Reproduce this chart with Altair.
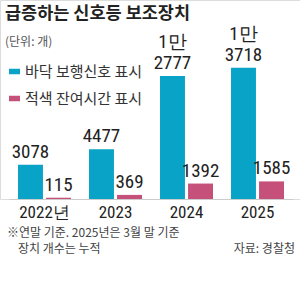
import altair as alt
import pandas as pd

years = ["2022년", "2023", "2024", "2025"]
series = ["바닥 보행신호 표시", "적색 잔여시간 표시"]
floor_signal = [3078, 4477, 12777, 13718]
red_timer = [115, 369, 1392, 1585]
colors = ["#0AA3C8", "#C5517A"]

title_text = "급증하는 신호등 보조장치"
unit_text = "(단위: 개)"
note1 = "※연말 기준. 2025년은 3월 말 기준"
note2 = "장치 개수는 누적"
source_text = "자료: 경찰청"


def low(v):
    return str(v % 10000) if v >= 10000 else str(v)


def high(v):
    return f"{v // 10000}만" if v >= 10000 else ""


rows = []
for i, y in enumerate(years):
    for s, vals in zip(series, [floor_signal, red_timer]):
        v = vals[i]
        rows.append({"year": y, "series": s, "value": v, "low": low(v), "high": high(v)})
df = pd.DataFrame(rows)

KR = "Noto Sans CJK KR"
NUM = "Liberation Sans Narrow, Roboto Condensed, Arial Narrow, sans-serif"

x_enc = alt.X("year:N", sort=years, title=None,
              scale=alt.Scale(range=[9, 293], paddingInner=0.254, paddingOuter=0.127),
              axis=alt.Axis(labelAngle=0, ticks=False, domainColor="#cccccc", domainWidth=1,
                            labelFont=NUM, labelFontSize=17, labelColor="#222222",
                            labelPadding=5))
xo_enc = alt.XOffset("series:N", sort=series,
                     scale=alt.Scale(paddingInner=0.11, paddingOuter=0))
y_enc = alt.Y("value:Q", title=None, axis=None,
              scale=alt.Scale(domain=[0, 5000, 14000], range=[199, 143.5, 65.4], nice=False))

base = alt.Chart(df)

bars = base.mark_bar().encode(
    x=x_enc, xOffset=xo_enc, y=y_enc,
    color=alt.Color("series:N", sort=series,
                    scale=alt.Scale(domain=series, range=colors),
                    legend=alt.Legend(orient="none", legendX=7, legendY=64, title=None,
                                      symbolType="M-1,-0.5H1V0.5H-1Z", symbolSize=121,
                                      symbolStrokeWidth=0, labelFont=KR, labelFontSize=15,
                                      labelColor="#333333", rowPadding=11, labelOffset=3,
                                      padding=0, labelLimit=200)),
)

labels_low = base.mark_text(baseline="bottom", dy=-3, font=NUM, fontSize=19,
                            color="#222222").encode(
    x=x_enc, xOffset=xo_enc, y=y_enc, text="low:N"
)
labels_high = base.transform_filter("datum.high != ''").mark_text(
    baseline="bottom", dy=-24, font=NUM, fontSize=19, color="#222222").encode(
    x=x_enc, xOffset=xo_enc, y=y_enc, text="high:N"
)


def txt(s, x, y, size, color, align="left", weight="normal"):
    return alt.Chart(pd.DataFrame({"t": [s]})).mark_text(
        align=align, baseline="middle", font=KR, fontSize=size, color=color, fontWeight=weight
    ).encode(x=alt.value(x), y=alt.value(y), text="t:N")


chart = alt.layer(
    bars, labels_low, labels_high,
    txt(title_text, 5, 14, 17.5, "#222222", weight="bold"),
    txt(unit_text, 5, 42, 12, "#555555"),
    txt(note1, 7, 233, 12, "#444444"),
    txt(note2, 18, 249, 12, "#444444"),
    txt(source_text, 295, 249, 12, "#444444", align="right"),
).properties(
    width=300, height=199,
    autosize=alt.AutoSizeParams(type="none"),
    padding={"left": 0, "right": 0, "top": 0, "bottom": 94},
).configure_view(stroke=None).configure(background="white")

chart.save("out.html", embed_options={"renderer": "svg", "actions": False})
